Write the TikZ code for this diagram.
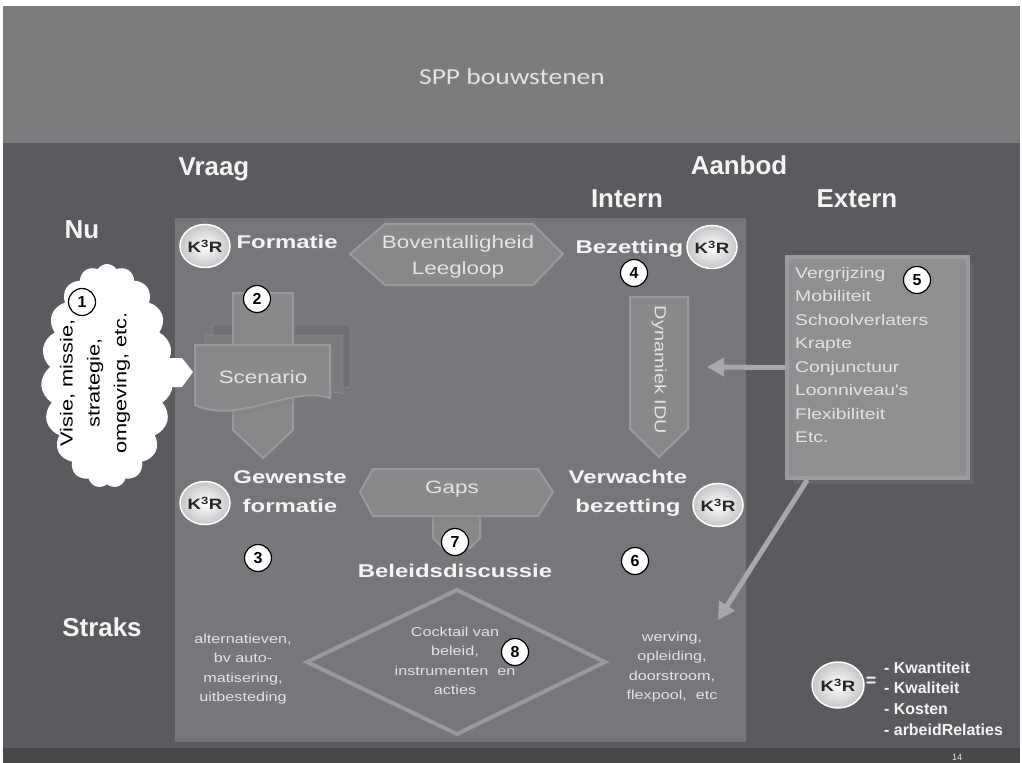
\documentclass[tikz,border=0pt]{standalone}
\usepackage{fontspec}
\setmainfont{Liberation Sans}
\newfontfamily\widefont[FakeStretch=1.25]{Liberation Sans}
\newfontfamily\lblfamily[FakeStretch=1.3]{Liberation Sans}
\newfontfamily\titlefamily[FakeStretch=1.2]{Carlito}
\usetikzlibrary{shapes.geometric,shapes.symbols,arrows.meta,shadows}

\definecolor{titlegray}{HTML}{7B7C7E}
\definecolor{bggray}{HTML}{5A5B5E}
\definecolor{panelgray}{HTML}{76777A}
\definecolor{shapegray}{HTML}{88898B}
\definecolor{bevelgray}{HTML}{9A9B9D}
\definecolor{arrowgray}{HTML}{A7A8AA}
\definecolor{footgray}{HTML}{47484A}
\definecolor{labelwhite}{HTML}{F4F4F4}
\definecolor{shapetext}{HTML}{E4E4E4}

\tikzset{
  head/.style={font=\bfseries\fontsize{26}{30}\selectfont, text=labelwhite, anchor=base},
  lbl/.style={font=\lblfamily\bfseries\fontsize{18.5}{29}\selectfont, text=labelwhite, align=center},
  shapetxt/.style={font=\widefont\fontsize{18}{26}\selectfont, text=shapetext, align=center},
  smalltxt/.style={font=\widefont\fontsize{13}{19.5}\selectfont, text=shapetext, align=center},
  listtxt/.style={font=\widefont\fontsize{15.5}{23.6}\selectfont, text=shapetext, align=left, inner sep=0pt},
  kkr/.style={ellipse, minimum width=50bp, minimum height=43bp, inner sep=0pt, draw=white, line width=1.5bp,
    inner color=white, outer color=gray!45, text=black!85, font=\widefont\bfseries\fontsize{15}{15}\selectfont},
  num/.style={circle, draw=black, line width=1.2bp, fill=white, minimum size=27bp, inner sep=0pt,
    font=\bfseries\fontsize{16}{16}\selectfont},
  shapefill/.style={fill=shapegray, draw=bevelgray, line width=2bp,
    drop shadow={shadow xshift=3bp, shadow yshift=-5bp, opacity=0.3}},
  grayarrow/.style={draw=arrowgray, line width=5bp, -{Triangle[length=17bp,width=18bp]}},
}

\begin{document}
\begin{tikzpicture}[x=1bp, y=-1bp]
\useasboundingbox (0,0) rectangle (1022,763);
\fill[white] (0,0) rectangle (1022,763);

% Title band
\fill[titlegray] (3,6) rectangle (1020,143);
\node[font=\titlefamily\fontsize{23}{23}\selectfont, text=shapetext] (title) at (512,77) {SPP bouwstenen};

% Main area and footer
\fill[bggray] (3,143) rectangle (1020,748);
\fill[footgray] (3,748) rectangle (1020,763);
\node[font=\fontsize{9}{9}\selectfont, text=shapetext, anchor=base] (pagenr) at (957,760) {14};

% Column and row headings
\node[head] (vraag) at (214,175) {Vraag};
\node[head] (aanbod) at (739,174) {Aanbod};
\node[head] (intern) at (627,207) {Intern};
\node[head] (extern) at (857,207) {Extern};
\node[head] (nu) at (82,238) {Nu};
\node[head] (straks) at (102,636) {Straks};

% Inner panel
\fill[panelgray] (175,218) rectangle (746,742);

% Cloud -- uitgangspunten
\node[cloud, cloud puffs=19, cloud puff arc=115, aspect=0.6, fill=white,
  minimum width=132bp, minimum height=224bp, inner sep=0pt] (cloud) at (107,376) {};
\fill[white] (160,358) -- (182,358) -- (193,372) -- (182,387) -- (160,387) -- cycle;
\node[font=\widefont\fontsize{17.5}{27}\selectfont, align=center, rotate=90] (visie) at (95,383)
  {Visie, missie,\\strategie,\\omgeving, etc.};
\node[num] (n1) at (82,302) {1};

% Scenario -- stacked pages with arrow
\fill[shapegray!80!black, draw=bevelgray] (213,325) -- (350,325) -- (350,388)
  .. controls (305,376) and (260,408) .. (213,393) -- cycle;
\fill[shapegray!90!black, draw=bevelgray] (205,335) -- (343,335) -- (343,394)
  .. controls (300,382) and (252,414) .. (205,399) -- cycle;
\fill[shapefill] (233,293) -- (293,293) -- (293,430) -- (263,458) -- (233,430) -- cycle;
\fill[shapefill] (195,345) -- (330,345) -- (330,398)
  .. controls (290,385) and (240,425) .. (195,405) -- cycle;
\node[shapetxt] (scen) at (263,377) {Scenario};
\node[num] (n2) at (257,299) {2};

% Formatie
\node[kkr] (kkrform) at (205,246) {K\textsuperscript{3}R};
\node[lbl, anchor=base west] (formatie) at (233,248) {Formatie};

% Boventalligheid / Leegloop
\fill[shapefill] (350,254) -- (385,224) -- (533,224) -- (563,254) -- (533,285) -- (385,285) -- cycle;
\node[shapetxt] (boven) at (458,257) {Boventalligheid\\Leegloop};

% Bezetting
\node[lbl, anchor=base west] (bezetting) at (572,253) {Bezetting};
\node[kkr] (kkrbez) at (712,247) {K\textsuperscript{3}R};
\node[num] (n4) at (634,273) {4};

% Dynamiek IDU
\fill[shapefill] (630,297) -- (688,297) -- (688,429) -- (659,457) -- (630,429) -- cycle;
\node[shapetxt, font=\widefont\fontsize{16}{16}\selectfont, rotate=-90] (dyn) at (659,370) {Dynamiek IDU};

% Extern box
\node[rectangle, minimum width=181bp, minimum height=221bp, fill=shapegray!95!white, draw=shapegray!85!white,
  line width=4bp, drop shadow={shadow xshift=6bp, shadow yshift=-6bp, opacity=0.3}] (ext) at (877.5,367.5) {};
\node[listtxt, anchor=north west] (extlist) at (795,266.7)
  {Vergrijzing\\Mobiliteit\\Schoolverlaters\\Krapte\\Conjunctuur\\Loonniveau's\\Flexibiliteit\\Etc.};
\node[num] (n5) at (917,280) {5};

% Arrows from extern
\coordinate (dynin) at (707,367);
\coordinate (wervin) at (718,620);
\draw[grayarrow] (ext.west) -- (dynin);
\draw[grayarrow] (ext.238) -- (wervin);

% Gewenste formatie
\node[kkr] (kkrgew) at (205,503) {K\textsuperscript{3}R};
\node[lbl] (gewenst) at (290,492) {Gewenste\\formatie};
\node[num] (n3) at (258,558) {3};

% Gaps
\fill[shapefill] (433,505) -- (480,505) -- (480,538) -- (470,548) -- (443,548) -- (433,538) -- cycle;
\fill[shapefill] (360,492) -- (373,469) -- (538,469) -- (553,492) -- (538,516) -- (373,516) -- cycle;
\node[shapetxt] (gaps) at (452,489) {Gaps};
\node[num] (n7) at (455,542) {7};
\node[lbl, anchor=base] (beleid) at (455,577) {Beleidsdiscussie};

% Verwachte bezetting
\node[lbl] (verwacht) at (628,493) {Verwachte\\bezetting};
\node[kkr] (kkrver) at (718,505) {K\textsuperscript{3}R};
\node[num] (n6) at (635,561) {6};

% Cocktail diamond
\draw[bevelgray, line width=4bp, line join=miter] (307,662) -- (457,590) -- (605,662) -- (457,734) -- cycle;
\node[smalltxt] (cocktail) at (455,661) {Cocktail van\\beleid,\\instrumenten~ en\\acties};
\node[num] (n8) at (515,652) {8};

% Options left and right
\node[smalltxt] (alt) at (243,669) {alternatieven,\\bv auto-\\matisering,\\uitbesteding};
\node[smalltxt] (werving) at (672,667) {werving,\\opleiding,\\doorstroom,\\flexpool,~ etc};

% Legend
\node[kkr, minimum width=52bp, minimum height=46bp] (kkrlegend) at (838,685) {K\textsuperscript{3}R};
\node[font=\bfseries\fontsize{18}{18}\selectfont, text=labelwhite] (isgelijk) at (871,682) {=};
\node[font=\bfseries\fontsize{16}{20.7}\selectfont, text=labelwhite, align=left, inner sep=0pt,
  anchor=north west] (kkrlist) at (884,661.5) {- Kwantiteit\\- Kwaliteit\\- Kosten\\- arbeidRelaties};
\end{tikzpicture}
\end{document}
